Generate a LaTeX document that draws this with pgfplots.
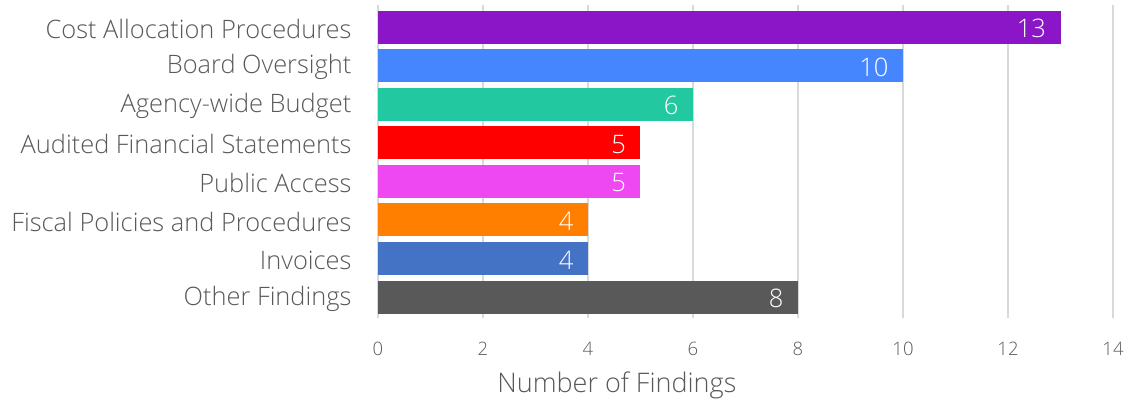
\documentclass[border=0pt]{standalone}
\usepackage{fontspec}
\setmainfont{Open Sans}[UprightFont={* Light}]
\usepackage{pgfplots}
\pgfplotsset{compat=1.18}
\definecolor{c1}{HTML}{8B16C8}
\definecolor{c2}{HTML}{4586FF}
\definecolor{c3}{HTML}{22C8A0}
\definecolor{c4}{HTML}{FF0000}
\definecolor{c5}{HTML}{EE48F2}
\definecolor{c6}{HTML}{FF7F00}
\definecolor{c7}{HTML}{4472C4}
\definecolor{c8}{HTML}{595959}
\definecolor{gridgray}{HTML}{D9D9D9}
\definecolor{textgray}{HTML}{595959}
\begin{document}
\begin{tikzpicture}
\useasboundingbox (-378pt,-84pt) rectangle (750pt,318pt);
\begin{axis}[
  at={(0,0)}, anchor=south west,
  scale only axis, width=735pt, height=313pt,
  xbar,
  every axis plot/.append style={bar width=33pt, bar shift=0pt, draw=none},
  xmin=0, xmax=14, xtick={0,2,...,14},
  ymin=-0.57, ymax=7.54, y dir=reverse,
  ytick={0,...,7},
  yticklabels={Cost Allocation Procedures, Board Oversight, Agency-wide Budget, Audited Financial Statements, Public Access, Fiscal Policies and Procedures, Invoices, Other Findings},
  axis line style={draw=none},
  major tick length=0pt,
  xmajorgrids, grid style={color=gridgray, line width=1.2pt},
  /pgf/number format/assume math mode=true,
  xticklabel style={font=\fontsize{18.5}{18.5}\selectfont, text=textgray, yshift=-21pt},
  yticklabel style={font=\fontsize{25.4}{25.4}\selectfont, text=textgray, xshift=-23pt, yshift=-1.5pt},
  xlabel={Number of Findings},
  xlabel style={at={(axis description cs:0.325,0)}, anchor=center, yshift=-67pt, font=\fontsize{27}{27}\selectfont, text=textgray},
  nodes near coords,
  nodes near coords style={anchor=east, text=white, font=\fontsize{25.5}{25.5}\selectfont, xshift=-11pt, yshift=-1.5pt},
]
\addplot[fill=c1] coordinates {(13,0)};
\addplot[fill=c2] coordinates {(10,1)};
\addplot[fill=c3] coordinates {(6,2)};
\addplot[fill=c4] coordinates {(5,3)};
\addplot[fill=c5] coordinates {(5,4)};
\addplot[fill=c6] coordinates {(4,5)};
\addplot[fill=c7] coordinates {(4,6)};
\addplot[fill=c8] coordinates {(8,7)};
\end{axis}
\end{tikzpicture}
\end{document}
